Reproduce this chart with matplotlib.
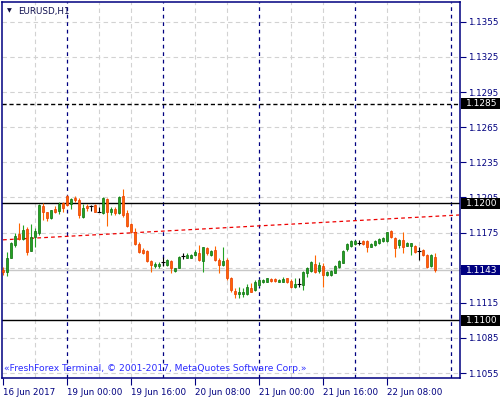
import matplotlib
matplotlib.use("Agg")
import matplotlib.pyplot as plt
import matplotlib.transforms as mtransforms
from matplotlib.patches import Rectangle
import pandas as pd
import numpy as np

symbol = "EURUSD,H1"
copyright_text = "«FreshForex Terminal, © 2001-2017, MetaQuotes Software Corp.»"

# H1 candles, 16 Jun 2017 08:00 .. 22 Jun 2017 20:00
opens = [
    1.11428, 1.11416, 1.11535, 1.11644, 1.11735, 1.11695, 1.11781, 1.11595, 1.11715, 1.11744,
    1.11977, 1.11923, 1.11872, 1.11951, 1.11937, 1.12000, 1.12062, 1.11991, 1.12048, 1.12028,
    1.11886, 1.11977, 1.11976, 1.11985, 1.11928, 1.11915, 1.12037, 1.11926, 1.11951, 1.11915,
    1.12062, 1.11915, 1.11823, 1.11752, 1.11650, 1.11601, 1.11593, 1.11507, 1.11465, 1.11465,
    1.11496, 1.11473, 1.11507, 1.11424, 1.11450, 1.11553, 1.11535, 1.11535, 1.11558, 1.11573,
    1.11507, 1.11616, 1.11558, 1.11601, 1.11516, 1.11473, 1.11516, 1.11360, 1.11251, 1.11223,
    1.11223, 1.11228, 1.11274, 1.11260, 1.11302, 1.11325, 1.11330, 1.11354, 1.11354, 1.11330,
    1.11330, 1.11360, 1.11339, 1.11283, 1.11311, 1.11302, 1.11402, 1.11422, 1.11482, 1.11422,
    1.11467, 1.11388, 1.11388, 1.11407, 1.11453, 1.11493, 1.11610, 1.11635, 1.11652, 1.11664,
    1.11678, 1.11678, 1.11629, 1.11644, 1.11658, 1.11678, 1.11678, 1.11763, 1.11701, 1.11644,
    1.11687, 1.11638, 1.11638, 1.11638, 1.11595, 1.11601, 1.11558, 1.11465, 1.11539,
]
highs = [
    1.11459, 1.11587, 1.11667, 1.11744, 1.11834, 1.11815, 1.11800, 1.11821, 1.11786, 1.11991,
    1.12000, 1.11928, 1.11943, 1.11980, 1.12014, 1.12014, 1.12071, 1.12043, 1.12065, 1.12043,
    1.11991, 1.11991, 1.11985, 1.11990, 1.11971, 1.12056, 1.12048, 1.11971, 1.11971, 1.12065,
    1.12122, 1.11943, 1.11829, 1.11786, 1.11672, 1.11616, 1.11601, 1.11516, 1.11501, 1.11496,
    1.11541, 1.11524, 1.11516, 1.11450, 1.11550, 1.11576, 1.11576, 1.11567, 1.11599, 1.11644,
    1.11629, 1.11629, 1.11601, 1.11638, 1.11530, 1.11629, 1.11530, 1.11368, 1.11274, 1.11288,
    1.11274, 1.11313, 1.11317, 1.11345, 1.11354, 1.11354, 1.11365, 1.11362, 1.11360, 1.11354,
    1.11373, 1.11365, 1.11354, 1.11365, 1.11362, 1.11422, 1.11459, 1.11507, 1.11558, 1.11501,
    1.11488, 1.11424, 1.11433, 1.11473, 1.11516, 1.11604, 1.11661, 1.11687, 1.11687, 1.11687,
    1.11687, 1.11687, 1.11661, 1.11687, 1.11704, 1.11710, 1.11757, 1.11772, 1.11710, 1.11695,
    1.11757, 1.11667, 1.11661, 1.11644, 1.11629, 1.11610, 1.11567, 1.11567, 1.11576,
]
lows = [
    1.11388, 1.11382, 1.11530, 1.11629, 1.11687, 1.11687, 1.11558, 1.11593, 1.11629, 1.11729,
    1.11857, 1.11849, 1.11866, 1.11915, 1.11906, 1.11928, 1.11980, 1.11951, 1.12014, 1.11877,
    1.11877, 1.11934, 1.11934, 1.11926, 1.11926, 1.11906, 1.11809, 1.11900, 1.11900, 1.11906,
    1.11886, 1.11800, 1.11744, 1.11644, 1.11578, 1.11567, 1.11499, 1.11416, 1.11445, 1.11447,
    1.11465, 1.11465, 1.11402, 1.11416, 1.11445, 1.11524, 1.11530, 1.11530, 1.11550, 1.11507,
    1.11416, 1.11558, 1.11550, 1.11507, 1.11402, 1.11467, 1.11345, 1.11245, 1.11189, 1.11189,
    1.11202, 1.11217, 1.11240, 1.11251, 1.11296, 1.11317, 1.11325, 1.11328, 1.11328, 1.11325,
    1.11328, 1.11319, 1.11274, 1.11277, 1.11288, 1.11260, 1.11373, 1.11416, 1.11402, 1.11405,
    1.11288, 1.11379, 1.11379, 1.11402, 1.11447, 1.11488, 1.11595, 1.11629, 1.11646, 1.11644,
    1.11644, 1.11587, 1.11624, 1.11638, 1.11652, 1.11672, 1.11672, 1.11701, 1.11539, 1.11616,
    1.11578, 1.11633, 1.11558, 1.11573, 1.11516, 1.11550, 1.11447, 1.11456, 1.11413,
]
closes = [
    1.11413, 1.11530, 1.11658, 1.11721, 1.11695, 1.11772, 1.11587, 1.11710, 1.11763, 1.11985,
    1.11928, 1.11872, 1.11940, 1.11928, 1.11994, 1.11962, 1.11985, 1.12034, 1.12028, 1.11900,
    1.11962, 1.11957, 1.11976, 1.11928, 1.11928, 1.12043, 1.11928, 1.11949, 1.11920, 1.12056,
    1.11900, 1.11809, 1.11757, 1.11650, 1.11587, 1.11578, 1.11507, 1.11473, 1.11482, 1.11482,
    1.11496, 1.11516, 1.11445, 1.11445, 1.11544, 1.11553, 1.11558, 1.11558, 1.11587, 1.11516,
    1.11624, 1.11573, 1.11593, 1.11516, 1.11473, 1.11507, 1.11365, 1.11260, 1.11228, 1.11245,
    1.11245, 1.11288, 1.11245, 1.11330, 1.11345, 1.11345, 1.11360, 1.11336, 1.11336, 1.11345,
    1.11354, 1.11325, 1.11288, 1.11308, 1.11311, 1.11416, 1.11450, 1.11496, 1.11413, 1.11473,
    1.11388, 1.11416, 1.11424, 1.11465, 1.11510, 1.11595, 1.11652, 1.11678, 1.11678, 1.11664,
    1.11652, 1.11629, 1.11650, 1.11678, 1.11693, 1.11701, 1.11752, 1.11710, 1.11616, 1.11687,
    1.11624, 1.11658, 1.11658, 1.11587, 1.11595, 1.11558, 1.11453, 1.11558, 1.11430,
]

price_ticks = [1.1055, 1.1085, 1.1115, 1.1145, 1.1175, 1.1205, 1.1235,
               1.1265, 1.1295, 1.1325, 1.1355]
level_prices = [1.1285, 1.1200, 1.1100]
level_styles = ["--", "-", "-"]
bid = 1.1143

# trend line anchors (bar index, price)
trend_bars = [0, 114]
trend_prices = [1.11688, 1.11900]

# time axis: Friday from 08:00, then Monday onwards (weekend skipped)
times = list(pd.date_range("2017-06-16 08:00", periods=16, freq="h")) + \
    list(pd.date_range("2017-06-19 00:00", periods=99, freq="h"))

navy = "#000080"
grid_col = "#d2d2d2"
bull = "#22a322"
bull_edge = "#0d6e0d"
bear = "#ff6600"
bear_edge = "#e83800"

plt.rcParams["font.family"] = ["DejaVu Sans"]

fig = plt.figure(figsize=(5, 4), dpi=100)
ax = fig.add_axes([2 / 500, 22 / 400, 458 / 500, 376 / 400])
ax.set_xlim(-0.25, 114.25)
ax.set_ylim(1.10508, 1.13719)

# grid
for p in price_ticks:
    ax.axhline(p, color=grid_col, lw=0.8, ls=(0, (4, 3)), zorder=1)
for i, t in enumerate(times):
    if t.hour == 0:
        ax.axvline(i, color=navy, lw=0.9, ls=(0, (3, 3)), zorder=1.5)
    elif i % 8 == 0 and i > 0:
        ax.axvline(i, color=grid_col, lw=0.8, ls=(0, (4, 3)), zorder=1)

# levels
for p, s in zip(level_prices, level_styles):
    ax.axhline(p, color="black", lw=1.0, ls=s if s == "-" else (0, (3, 2)), zorder=2)
ax.axhline(bid, color="#c8c8c8", lw=1.0, zorder=1.8)
ax.plot(trend_bars, trend_prices, color="#ee0000", lw=0.9, ls=(0, (3, 2.5)), zorder=2)

# candles
o, h, l, c = map(np.array, (opens, highs, lows, closes))
x = np.arange(len(o))
up = c > o
down = c < o
flat = c == o
wick_cols = np.where(up, bull, np.where(down, bear, "black"))
ax.vlines(x, l, h, colors=wick_cols, lw=0.8, zorder=3)
ax.bar(x[up], (c - o)[up], bottom=o[up], width=0.7, color=bull,
       edgecolor=bull_edge, lw=0.5, zorder=4)
ax.bar(x[down], (o - c)[down], bottom=c[down], width=0.7, color=bear,
       edgecolor=bear_edge, lw=0.5, zorder=4)
ax.hlines(o[flat], x[flat] - 0.4, x[flat] + 0.4, colors="black", lw=0.8, zorder=4)

# axes styling
for sp in ax.spines.values():
    sp.set_color(navy)
    sp.set_linewidth(1.1)
ax.yaxis.tick_right()
ax.set_yticks(price_ticks)
# the 1.1145 label sits under the bid box, so it is left blank
ax.set_yticklabels(["" if abs(p - bid) < 0.0003 else f"{p:.4f}" for p in price_ticks])
ax.tick_params(axis="y", direction="out", length=4, width=0.8, color=navy,
               labelcolor=navy, labelsize=6.3, pad=2)

tick_bars = list(range(0, 97, 16))
tick_labels = []
for i in tick_bars:
    if i == 0:
        tick_labels.append(times[i].strftime("%d %b %Y"))
    else:
        tick_labels.append(times[i].strftime("%d %b %H:%M"))
ax.set_xticks(tick_bars)
ax.set_xticklabels(tick_labels, ha="left")
ax.tick_params(axis="x", direction="out", length=5, width=0.8, color=navy,
               labelcolor=navy, labelsize=6.3, pad=2)

# price boxes on the right scale
trans = mtransforms.blended_transform_factory(ax.transAxes, ax.transData)
box_h = 0.00092
for p in level_prices + [bid]:
    fc = navy if p == bid else "black"
    ax.add_patch(Rectangle((1.002, p - box_h / 2), 0.09, box_h, transform=trans,
                           fc=fc, ec="none", clip_on=False, zorder=9))
    ax.text(1.013, p, f"{p:.4f}", transform=trans, color="white", fontsize=6.5,
            ha="left", va="center", clip_on=False, zorder=10)

ax.text(0.011, 0.976, "▼", transform=ax.transAxes, fontsize=4.5, color="#101040",
        ha="left", va="center")
ax.text(0.036, 0.976, symbol, transform=ax.transAxes, fontsize=6.3, color="#101050",
        ha="left", va="center")
ax.text(0.004, 0.012, copyright_text, transform=ax.transAxes, fontsize=6.6,
        color="#2a2aff", ha="left", va="bottom")

fig.savefig("out.png", dpi=100)
